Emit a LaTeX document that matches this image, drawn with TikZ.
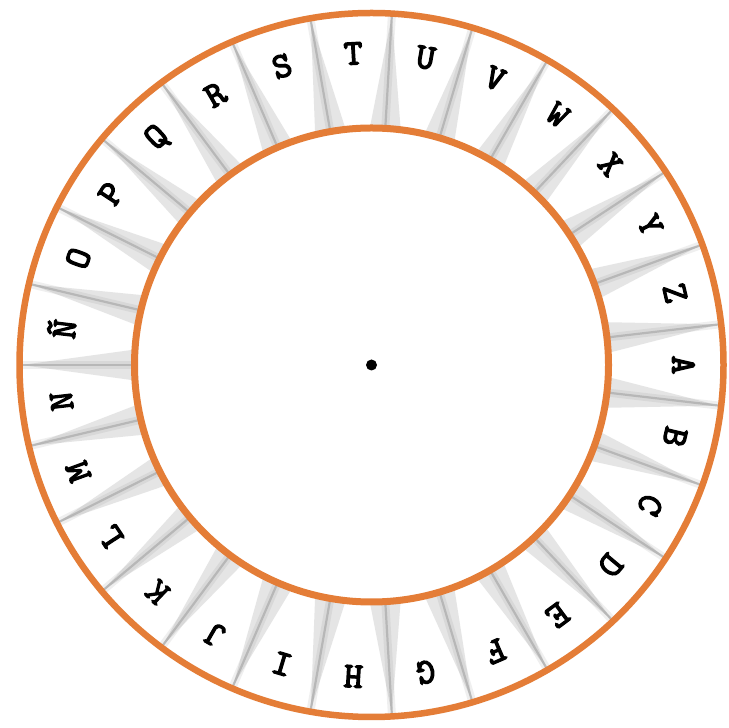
\documentclass[tikz,border=0pt]{standalone}
\usepackage{fontspec}
\newfontfamily\wheelfont{lmmono10-regular.otf}[FakeBold=3.5]
\definecolor{ringor}{RGB}{228,125,55}
\tikzset{
  ring/.style={draw=ringor, line width=6.5},
  wedgeshade/.style={fill=gray!20, draw=none},
  foldline/.style={draw=gray!65, line width=2.2, opacity=0.75},
  foldblur/.style={draw=gray, line width=8, opacity=0.12},
  letter/.style={font=\wheelfont\fontsize{36}{36}\selectfont, inner sep=0pt}
}
\begin{document}
\begin{tikzpicture}[x=1pt,y=1pt]
\useasboundingbox (0,0) rectangle (728,728);
\fill[white] (0,0) rectangle (728,728);
\begin{scope}[shift={(371.5,363)}]
  % folds between letters
  \foreach \k in {0,...,26} {
    \pgfmathsetmacro\a{6.6667-13.3333*\k}
    \pgfmathsetmacro\al{\a-3.6}
    \pgfmathsetmacro\ar{\a+3.6}
    \fill[wedgeshade] (\a:350) -- (\al:240) -- (\ar:240) -- cycle;
    \draw[foldblur] (\a:240) -- (\a:350);
    \draw[foldline] (\a:240) -- (\a:350);
  }
  % rings
  \draw[ring] (0,0) circle (352);
  \draw[ring, line width=7] (0,0) circle (237);
  % letters
  \foreach \L [count=\i from 0] in {A,B,C,D,E,F,G,H,I,J,K,L,M,N,Ñ,O,P,Q,R,S,T,U,V,W,X,Y,Z} {
    \pgfmathsetmacro\t{-13.3333*\i}
    \node[letter, rotate=\t-90] (l\i) at (\t:312) {\L};
  }
  % centre
  \fill[black] (0,0) circle (5.5);
\end{scope}
\end{tikzpicture}
\end{document}
